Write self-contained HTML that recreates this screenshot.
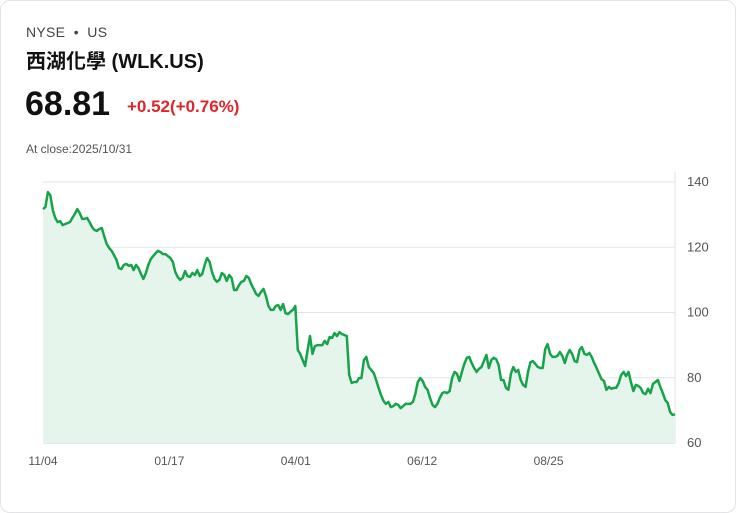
<!DOCTYPE html>
<html><head><meta charset="utf-8"><style>
body{margin:0;background:#fff;font-family:"Liberation Sans","Noto Sans CJK TC",sans-serif;}
.card{position:absolute;left:0;top:0;width:734px;height:511px;border:1px solid #e3e3e6;border-radius:10px;background:#fff;}
.ex{position:absolute;left:25px;top:23px;font-size:14px;color:#444;letter-spacing:0.3px;}
.nm{position:absolute;left:25px;top:44px;font-size:20px;font-weight:bold;color:#111;}
.px{position:absolute;left:24px;top:84px;font-size:34px;font-weight:bold;color:#111;}
.ch{position:absolute;left:126px;top:96px;font-size:17px;color:#e0242b;font-weight:bold;}
.cl{position:absolute;left:25px;top:141px;font-size:12px;color:#555;}
svg{position:absolute;left:0;top:0;}
</style></head><body>
<div class="card">
<div class="ex">NYSE&nbsp; • &nbsp;US</div>
<div class="nm">西湖化學 (WLK.US)</div>
<div class="px">68.81</div>
<div class="ch">+0.52(+0.76%)</div>
<div class="cl">At close:2025/10/31</div>
</div>
<svg id="chart" width="736" height="513"></svg>
<script>
const prices=[131.7,132.3,136.9,136.0,131.4,129.0,127.7,128.0,126.8,127.1,127.4,127.7,129.0,130.2,131.7,130.5,128.7,128.7,129.0,127.7,126.2,125.3,125.0,125.6,125.9,123.4,121.0,119.8,118.9,117.6,116.1,113.6,113.3,114.6,114.9,114.3,114.6,113.0,114.6,113.6,111.8,110.3,112.1,114.6,116.4,117.3,118.2,118.9,118.5,117.9,117.9,117.3,116.7,115.5,112.4,110.9,110.0,110.6,112.7,111.2,110.9,112.1,111.5,113.0,111.2,111.8,114.6,116.7,115.5,112.4,110.3,109.4,110.0,112.1,111.5,109.7,111.5,110.6,106.9,106.9,108.4,109.4,109.7,111.2,110.6,108.7,107.2,105.7,105.1,106.3,107.2,105.1,102.0,100.8,100.8,102.0,102.3,100.8,102.6,99.8,99.5,100.2,100.8,102.0,88.5,87.3,85.4,83.6,88.5,92.8,87.3,89.7,90.0,90.0,90.0,91.3,90.3,92.5,92.2,93.7,92.8,94.0,93.4,93.1,92.8,80.8,78.4,78.7,78.7,79.9,79.9,85.4,86.4,83.3,82.4,81.5,79.3,76.9,74.7,72.9,72.0,72.6,71.0,71.3,72.0,71.7,70.7,71.3,72.0,72.0,72.0,72.6,75.0,78.7,79.9,79.0,77.2,76.3,73.8,71.7,71.0,72.0,73.8,75.3,75.6,75.3,75.9,79.9,81.8,81.2,79.0,81.8,84.2,86.1,86.4,84.5,83.0,81.8,82.7,83.3,85.1,87.0,83.0,85.4,86.1,85.7,83.9,79.3,79.3,76.9,76.3,81.2,83.3,81.8,82.4,79.3,77.8,77.2,81.8,84.8,85.1,84.2,83.3,83.0,83.0,88.8,90.3,87.3,86.4,86.4,86.7,87.9,86.7,84.5,87.0,88.5,87.3,85.1,84.8,88.5,89.4,87.3,87.0,87.6,86.4,84.5,83.0,81.2,79.6,79.0,76.3,77.2,76.6,76.9,76.9,78.4,80.8,81.8,80.5,81.8,78.7,75.9,77.8,77.5,76.9,75.3,75.0,76.6,75.3,78.1,78.7,79.3,77.2,75.3,73.2,72.3,69.5,68.6,68.81];
const yTicks=[60,80,100,120,140];
const xTickLabels=["11/04","01/17","04/01","06/12","08/25"];
const xTickFrac=[0,0.2,0.4,0.6,0.8];
const svg=document.getElementById('chart');
const NS='http://www.w3.org/2000/svg';
const L=43,R=675,T=182,B=443,yMin=60,yMax=140;
const xs=i=>L+(R-L)*i/(prices.length-1);
const ys=v=>B-(v-yMin)/(yMax-yMin)*(B-T);
function mk(t,a){const e=document.createElementNS(NS,t);for(const k in a)e.setAttribute(k,a[k]);svg.appendChild(e);return e;}
yTicks.forEach(v=>{
 const g=mk('line',{x1:L,x2:R,y1:ys(v),y2:ys(v),stroke:v===60?'#cfcfcf':'#e3e3e3','stroke-width':1});
 
 
 const t=mk('text',{x:687,y:ys(v)+4,'font-size':13,fill:'#555','font-family':'Liberation Sans, sans-serif'});
 t.textContent=v;
 
 
});
const va=mk('line',{x1:R,x2:R,y1:T-10,y2:B,stroke:'#e3e3e3','stroke-width':1});


xTickLabels.forEach((s,i)=>{
 const x=L+(R-L)*xTickFrac[i];
 const t=mk('text',{x:x,y:465,'font-size':12,fill:'#555','text-anchor':'middle','font-family':'Liberation Sans, sans-serif'});
 t.textContent=s;
 
 
});
let d='';prices.forEach((v,i)=>{d+=(i?'L':'M')+xs(i).toFixed(1)+','+ys(v).toFixed(1);});
const area=mk('path',{d:d+'L'+xs(prices.length-1)+','+B+'L'+L+','+B+'Z',fill:'#e6f5ec'});


const line=mk('path',{d:d,fill:'none',stroke:'#16a34a','stroke-width':2.5,'stroke-linejoin':'round'});


</script>
</body></html>
